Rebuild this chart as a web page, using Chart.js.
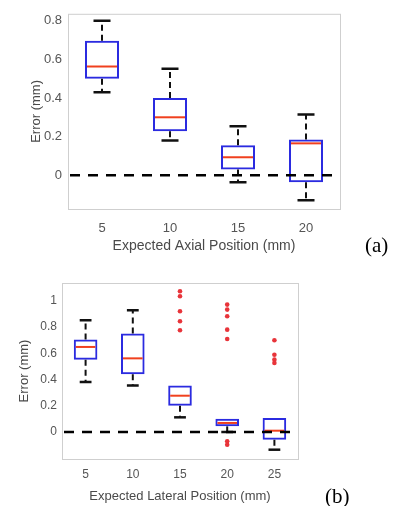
<!DOCTYPE html>
<html>
<head>
<meta charset="utf-8">
<script src="https://cdn.jsdelivr.net/npm/chart.js@4.4.1/dist/chart.umd.min.js"></script>
<style>
    body { margin: 0; background: #fff; width: 407px; height: 506px; position: relative; overflow: hidden; }
    .wrap { position: absolute; left: 0; width: 407px; }
    .tag { position: absolute; font-family: "Liberation Serif", "Times New Roman", serif; font-size: 21px; color: #000; line-height: 24px; }
</style>
</head>
<body>
<div class="wrap" style="top:0;height:258px"><canvas id="chartA" width="407" height="258"></canvas></div>
<div class="wrap" style="top:262px;height:244px"><canvas id="chartB" width="407" height="244"></canvas></div>
<div class="tag" style="left:365px;top:233px">(a)</div>
<div class="tag" style="left:325px;top:484px">(b)</div>
<script>
// (a) axial position
var axialLabels = ["5", "10", "15", "20"];
var axialLow = [0.43, 0.18, -0.036, -0.13];
var axialQ1 = [0.50, 0.228, 0.03, -0.036];
var axialMedian = [0.563, 0.30, 0.093, 0.165];
var axialQ3 = [0.697, 0.40, 0.155, 0.185];
var axialHigh = [0.80, 0.552, 0.253, 0.315];
var axialOutliers = [[], [], [], []];
var axialTicks = [0, 0.2, 0.4, 0.6, 0.8];

// (b) lateral position
var lateralLabels = ["5", "10", "15", "20", "25"];
var lateralLow = [0.382, 0.354, 0.112, 0.0, -0.135];
var lateralQ1 = [0.552, 0.44, 0.201, 0.043, -0.059];
var lateralMedian = [0.649, 0.562, 0.277, 0.069, 0.01];
var lateralQ3 = [0.705, 0.751, 0.354, 0.102, 0.107];
var lateralHigh = [0.852, 0.929, 0.354, 0.102, 0.107];
var lateralOutliers = [
    [],
    [],
    [1.074, 1.036, 0.921, 0.845, 0.776],
    [0.972, 0.934, 0.883, 0.781, 0.71, -0.071, -0.097],
    [0.70, 0.59, 0.552, 0.527]
];
var lateralTicks = [0, 0.2, 0.4, 0.6, 0.8, 1];

var boxBlue = "#2b2be0";
var medianRed = "#f0401e";

// whiskers, caps, medians, zero line and frame
var boxPlugin = {
    id: "boxExtras",
    afterDatasetsDraw: function (chart) {
        var o = chart.options.plugins.boxExtras;
        var ctx = chart.ctx;
        var ys = chart.scales.y;
        var area = chart.chartArea;
        var meta = chart.getDatasetMeta(0);
        ctx.save();
        meta.data.forEach(function (bar, i) {
            var x = bar.x;
            var half = bar.width / 2;
            var yLo = ys.getPixelForValue(o.low[i]);
            var yQ1 = ys.getPixelForValue(o.q1[i]);
            var yQ3 = ys.getPixelForValue(o.q3[i]);
            var yHi = ys.getPixelForValue(o.high[i]);
            var yMed = ys.getPixelForValue(o.median[i]);
            ctx.strokeStyle = "#111";
            ctx.lineWidth = 2;
            ctx.setLineDash([6, 4]);
            ctx.beginPath();
            ctx.moveTo(x, yQ3); ctx.lineTo(x, yHi);
            ctx.moveTo(x, yQ1); ctx.lineTo(x, yLo);
            ctx.stroke();
            ctx.setLineDash([]);
            ctx.lineWidth = 2.5;
            ctx.beginPath();
            if (o.high[i] > o.q3[i]) {
                ctx.moveTo(x - half / 2, yHi); ctx.lineTo(x + half / 2, yHi);
            }
            if (o.low[i] < o.q1[i]) {
                ctx.moveTo(x - half / 2, yLo); ctx.lineTo(x + half / 2, yLo);
            }
            ctx.stroke();
            ctx.strokeStyle = medianRed;
            ctx.lineWidth = 2;
            ctx.beginPath();
            ctx.moveTo(x - half + 2, yMed); ctx.lineTo(x + half - 2, yMed);
            ctx.stroke();
        });
        // zero reference line
        var y0 = ys.getPixelForValue(0);
        ctx.strokeStyle = "#000";
        ctx.lineWidth = 2.5;
        ctx.setLineDash([10, 8]);
        ctx.beginPath();
        ctx.moveTo(area.left + 2, y0);
        ctx.lineTo(area.right, y0);
        ctx.stroke();
        ctx.setLineDash([]);
        // frame
        ctx.strokeStyle = "#cfcfcf";
        ctx.lineWidth = 1;
        ctx.strokeRect(area.left + 0.5, area.top + 0.5, area.right - area.left, area.bottom - area.top);
        ctx.restore();
    }
};

function makeBoxChart(id, s) {
    var points = [];
    s.outliers.forEach(function (list, i) {
        list.forEach(function (v) {
            points.push({ x: s.labels[i], y: v });
        });
    });
    var ctx = document.getElementById(id).getContext("2d");
    return new Chart(ctx, {
        type: "bar",
        data: {
            labels: s.labels,
            datasets: [
                {
                    data: s.q1.map(function (v, i) { return [v, s.q3[i]]; }),
                    backgroundColor: "rgba(0, 0, 0, 0)",
                    borderColor: boxBlue,
                    borderWidth: 2,
                    borderSkipped: false,
                    barPercentage: 0.5,
                    categoryPercentage: 1,
                },
                {
                    type: "line",
                    data: points,
                    showLine: false,
                    pointRadius: 2.3,
                    pointBackgroundColor: "#e8343a",
                    pointBorderColor: "#e8343a",
                    pointBorderWidth: 0,
                },
            ],
        },
        options: {
            responsive: false,
            animation: false,
            layout: { padding: { top: s.padTop, right: s.padRight, left: 0, bottom: 0 } },
            plugins: {
                legend: { display: false },
                tooltip: { enabled: false },
                boxExtras: { low: s.low, q1: s.q1, median: s.median, q3: s.q3, high: s.high },
            },
            scales: {
                x: {
                    type: "category",
                    offset: true,
                    grid: { display: false, drawTicks: false },
                    border: { display: false },
                    ticks: { color: "#555", font: { family: "Liberation Sans", size: s.tickSize }, padding: s.xTickPad, maxRotation: 0 },
                    title: {
                        display: true,
                        text: s.xTitle,
                        color: "#4a4a4a",
                        font: { family: "Liberation Sans", size: s.xTitleSize },
                        padding: { top: 0, bottom: s.xTitlePad },
                    },
                    afterFit: function (scale) { scale.height = s.xHeight; },
                },
                y: {
                    type: "linear",
                    min: s.min,
                    max: s.max,
                    grid: { display: false, drawTicks: false },
                    border: { display: false },
                    ticks: {
                        color: "#555",
                        font: { family: "Liberation Sans", size: s.tickSize },
                        padding: s.yTickPad,
                        callback: function (v) { return String(Math.round(v * 10) / 10); },
                    },
                    afterBuildTicks: function (scale) {
                        scale.ticks = s.ticks.map(function (v) { return { value: v }; });
                    },
                    title: {
                        display: true,
                        text: "Error (mm)",
                        color: "#4a4a4a",
                        font: { family: "Liberation Sans", size: 13 },
                        padding: { top: s.yTitlePad, bottom: 0 },
                    },
                    afterFit: function (scale) { scale.width = s.yWidth; },
                },
            },
        },
        plugins: [boxPlugin],
    });
}

makeBoxChart("chartA", {
    labels: axialLabels, low: axialLow, q1: axialQ1, median: axialMedian, q3: axialQ3, high: axialHigh,
    outliers: axialOutliers, ticks: axialTicks, min: -0.175, max: 0.836,
    xTitle: "Expected Axial Position (mm)", xTitleSize: 14, xTitlePad: 3, xTickPad: 12, xHeight: 49,
    tickSize: 13, yTickPad: 6, yTitlePad: 29, yWidth: 68, padTop: 13, padRight: 67,
});

makeBoxChart("chartB", {
    labels: lateralLabels, low: lateralLow, q1: lateralQ1, median: lateralMedian, q3: lateralQ3, high: lateralHigh,
    outliers: lateralOutliers, ticks: lateralTicks, min: -0.206, max: 1.137,
    xTitle: "Expected Lateral Position (mm)", xTitleSize: 13, xTitlePad: 1.5, xTickPad: 8, xHeight: 47,
    tickSize: 12, yTickPad: 5, yTitlePad: 17, yWidth: 62, padTop: 21, padRight: 109,
});
</script>
</body>
</html>
